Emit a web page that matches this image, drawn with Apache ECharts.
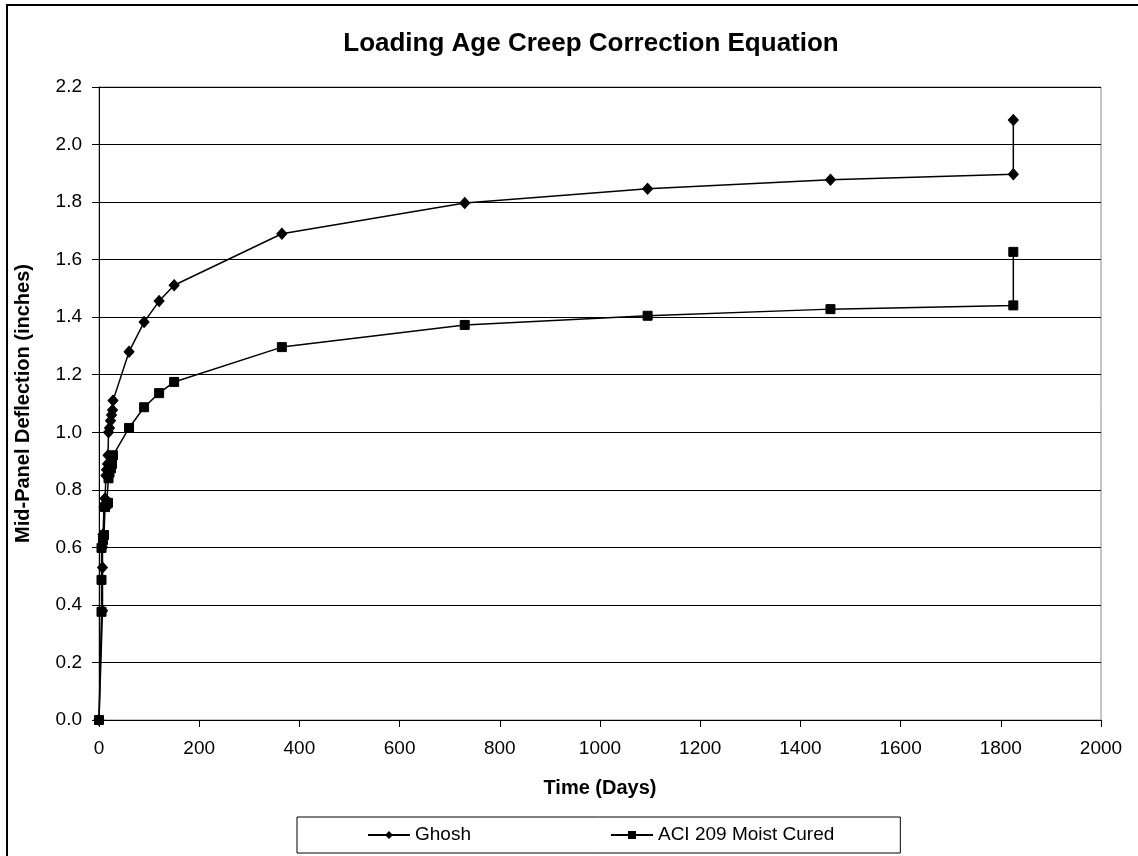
<!DOCTYPE html>
<html>
<head>
<meta charset="utf-8">
<title>Loading Age Creep Correction Equation</title>
<script src="https://cdn.jsdelivr.net/npm/echarts@6/dist/echarts.min.js"></script>
<style>
  html, body { margin: 0; padding: 0; background: #fff; }
  #chart { width: 1138px; height: 856px; }
</style>
</head>
<body>
<div id="chart"></div>
<script>
// Mid-panel deflection (inches) against time (days), two creep models.
const ghoshDays = [0, 7, 7, 7, 8, 10, 12, 14, 15, 17, 18, 19, 21, 23, 25, 27, 28, 60, 90, 120, 150, 365, 730, 1095, 1460, 1825, 1825];
const ghoshDefl = [0, 0.38, 0.53, 0.60, 0.645, 0.74, 0.77, 0.85, 0.87, 0.89, 0.92, 1.00, 1.015, 1.04, 1.06, 1.077, 1.11, 1.28, 1.383, 1.456, 1.511, 1.69, 1.797, 1.846, 1.878, 1.897, 2.085];

const aciDays = [0, 5, 5, 5, 8, 10, 12, 15, 18, 19, 21, 24, 26, 28, 60, 90, 120, 150, 365, 730, 1095, 1460, 1825, 1825];
const aciDefl = [0, 0.376, 0.487, 0.598, 0.625, 0.643, 0.74, 0.75, 0.755, 0.84, 0.86, 0.875, 0.89, 0.92, 1.015, 1.087, 1.136, 1.175, 1.296, 1.373, 1.405, 1.428, 1.441, 1.627];

const seriesNames = ['Ghosh', 'ACI 209 Moist Cured'];
const chartTitle = 'Loading Age Creep Correction Equation';
const xTitle = 'Time (Days)';
const yTitle = 'Mid-Panel Deflection (inches)';

const pairs = (xs, ys) => xs.map((x, i) => [x, ys[i]]);
const FONT = '"Liberation Sans", Arial, sans-serif';

const chart = echarts.init(document.getElementById('chart'), null, { renderer: 'canvas' });

chart.setOption({
  backgroundColor: '#fff',
  animation: false,
  title: {
    text: chartTitle,
    left: 586, textAlign: 'center', top: 26,
    textStyle: { fontFamily: FONT, fontSize: 26, fontWeight: 'bold', color: '#000' }
  },
  graphic: [{
    type: 'rect',
    shape: { x: 7, y: 5, width: 1150, height: 900 },
    style: { fill: 'none', stroke: '#000', lineWidth: 2 },
    silent: true, z: 100
  }],
  grid: {
    left: 99, right: 37, top: 87, bottom: 136,
    show: true, borderColor: '#8c8c8c', borderWidth: 1, backgroundColor: '#fff'
  },
  legend: {
    left: 297, top: 817,
    padding: [8, 66, 8, 70],
    itemGap: 139,
    itemWidth: 42, itemHeight: 10,
    borderColor: '#000', borderWidth: 1,
    textStyle: { fontFamily: FONT, fontSize: 19, color: '#000', lineHeight: 20 },
    data: seriesNames
  },
  xAxis: {
    type: 'value', min: 0, max: 2000, interval: 200,
    name: xTitle, nameLocation: 'middle', nameGap: 58,
    nameTextStyle: { fontFamily: FONT, fontSize: 20, fontWeight: 'bold', color: '#000' },
    axisLine: { lineStyle: { color: '#000', width: 1 } },
    axisTick: { show: true, inside: false, length: 7, lineStyle: { color: '#000' } },
    axisLabel: { fontFamily: FONT, fontSize: 19, color: '#000', margin: 19,
                 formatter: v => String(v) },
    splitLine: { show: false }
  },
  yAxis: {
    type: 'value', min: 0, max: 2.2, interval: 0.2,
    name: yTitle, nameLocation: 'middle', nameGap: 66, nameRotate: 90,
    nameTextStyle: { fontFamily: FONT, fontSize: 20, fontWeight: 'bold', color: '#000' },
    axisLine: { show: true, lineStyle: { color: '#000', width: 1 } },
    axisTick: { show: true, inside: false, length: 7, lineStyle: { color: '#000' } },
    axisLabel: { fontFamily: FONT, fontSize: 19, color: '#000', margin: 17,
                 formatter: v => v.toFixed(1) },
    splitLine: { show: true, lineStyle: { color: '#000', width: 1 } }
  },
  series: [
    {
      name: seriesNames[0], type: 'line',
      data: pairs(ghoshDays, ghoshDefl),
      symbol: 'diamond', symbolSize: [10, 11], showAllSymbol: true,
      lineStyle: { color: '#000', width: 1.5 },
      itemStyle: { color: '#000', borderColor: '#000' },
      z: 3
    },
    {
      name: seriesNames[1], type: 'line',
      data: pairs(aciDays, aciDefl),
      symbol: 'rect', symbolSize: 9, showAllSymbol: true,
      lineStyle: { color: '#000', width: 1.5 },
      itemStyle: { color: '#000', borderColor: '#000' },
      z: 2
    }
  ]
});
</script>
</body>
</html>
